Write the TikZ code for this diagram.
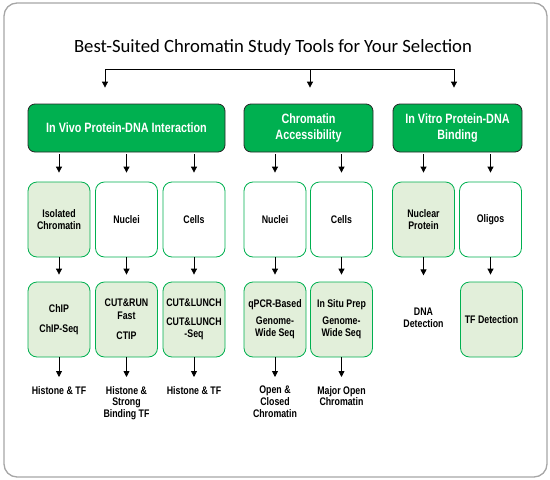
\documentclass[tikz,border=0pt]{standalone}
\usepackage{fontspec}
\setmainfont{Liberation Sans}
\newfontfamily\titlefont{Carlito}
\newfontfamily\narrowfont[FakeStretch=0.80]{Liberation Sans}
\usetikzlibrary{arrows.meta}
\definecolor{hgreen}{HTML}{00B050}
\definecolor{lgreen}{HTML}{E2EFDA}
\definecolor{frame}{HTML}{A6A6A6}
\tikzset{
  head/.style={draw=black!85, line width=0.8pt, fill=hgreen, rounded corners=7pt,
    text=white, minimum width=129pt, minimum height=48pt, align=center,
    font=\narrowfont\bfseries\fontsize{13.5}{15.5}\selectfont, inner sep=2pt},
  sub/.style={draw=hgreen, line width=0.8pt, fill=white, rounded corners=9pt,
    minimum width=62pt, minimum height=75pt, align=center,
    font=\narrowfont\bfseries\fontsize{11}{12.5}\selectfont, inner sep=1pt},
  subl/.style={sub, fill=lgreen},
  lbl/.style={align=center, anchor=north, inner sep=0pt,
    font=\narrowfont\bfseries\fontsize{11}{11.7}\selectfont},
  arr/.style={-{Triangle[length=6pt,width=6pt]}, line width=0.8pt},
}
\begin{document}
\begin{tikzpicture}[x=1pt,y=-1pt]
\useasboundingbox (0,0) rectangle (550,480);
\draw[frame, line width=1.3pt, rounded corners=13pt] (4,3) rectangle (547,477);
\node[font=\titlefont\fontsize{18.7}{21}\selectfont] (title) at (273,48) {Best-Suited Chromatin Study Tools for Your Selection};
% headers
\node[head, minimum width=197pt] (h1) at (126.5,128) {In Vivo Protein-DNA Interaction};
\node[head] (h2) at (308.5,128) {Chromatin\\Accessibility};
\node[head] (h3) at (457.5,128) {In Vitro Protein-DNA\\Binding};
% bracket
\coordinate (j1) at (105,69);
\coordinate (j2) at (310,69);
\coordinate (j3) at (454,69);
\draw[line width=0.8pt] (j1) -- (j3);
\draw[arr, shorten >=16pt] (j1) -- (j1 |- h1.north);
\draw[arr, shorten >=16pt] (j2) -- (j2 |- h2.north);
\draw[arr, shorten >=16pt] (j3) -- (j3 |- h3.north);
% row 2
\node[subl] (b1) at (59,219.5) {Isolated\\Chromatin};
\node[sub] (b2) at (126.5,219.5) {Nuclei};
\node[sub] (b3) at (194,219.5) {Cells};
\node[sub] (b4) at (275,219.5) {Nuclei};
\node[sub] (b5) at (341.5,219.5) {Cells};
\node[subl] (b6) at (423.5,219.5) {Nuclear\\Protein};
\node[sub] (b7) at (490.5,219.5) {Oligos};
% row 3
\node[subl] (c1) at (59,319.5) {ChIP\\[8pt]ChIP-Seq};
\node[subl] (c2) at (126.5,319.5) {CUT\&RUN\\Fast\\[8pt]CTIP};
\node[subl] (c3) at (194,319.5) {CUT\&LUNCH\\[6pt]CUT\&LUNCH\\-Seq};
\node[subl] (c4) at (275,319.5) {qPCR-Based\\[4pt]Genome-\\Wide Seq};
\node[subl] (c5) at (341.5,319.5) {In Situ Prep\\[4pt]Genome-\\Wide Seq};
\node[lbl, anchor=center] (c6) at (423.5,318) {DNA\\Detection};
\node[subl] (c7) at (491.5,319.5) {TF Detection};
% bottom labels
\node[lbl] (d1) at (59,386) {Histone \& TF};
\node[lbl] (d2) at (126.5,386) {Histone \&\\Strong\\Binding TF};
\node[lbl] (d3) at (194,386) {Histone \& TF};
\node[lbl] (d4) at (275,386) {Open \&\\Closed\\Chromatin};
\node[lbl] (d5) at (341.5,386) {Major Open\\Chromatin};
% arrows header -> row2
\foreach \b/\h in {b1/h1,b2/h1,b3/h1,b4/h2,b5/h2,b6/h3,b7/h3}
  \draw[arr, shorten <=2pt, shorten >=9pt] (\b.north |- \h.south) -- (\b.north);
% arrows row2 -> row3
\foreach \b/\c in {b1/c1,b2/c2,b3/c3,b4/c4,b5/c5,b7/c7}
  \draw[arr, shorten >=7pt] (\b.south) -- (\b.south |- \c.north);
\draw[arr] (b6.south) -- ([yshift=-18pt]b6.south) coordinate (e6);
% arrows row3 -> labels
\foreach \c/\d in {c1/d1,c2/d2,c3/d3,c4/d4,c5/d5}
  \draw[arr, shorten >=9pt] (\c.south) -- (\c.south |- \d.north);
\end{tikzpicture}
\end{document}
